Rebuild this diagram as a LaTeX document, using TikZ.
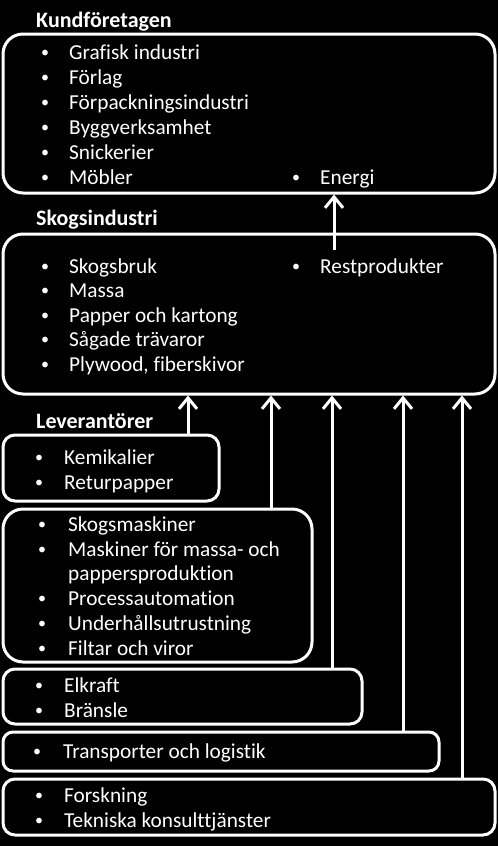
\documentclass[tikz,border=0pt]{standalone}
\usepackage{fontspec}
\setmainfont{Carlito}[Ligatures={NoCommon}]
\usetikzlibrary{arrows.meta}
\newcommand\li[5]{\node[bul] (#1b) at (#2,#4) {•}; \node[itm] (#1) at (#3,#4) {#5};}
\begin{document}
\begin{tikzpicture}[x=1pt,y=-1pt,
 box/.style={draw=white, line width=3pt, inner sep=0pt, rectangle},
 ttl/.style={anchor=base west, inner sep=0pt, text=white, font=\fontsize{22}{26}\selectfont\bfseries},
 itm/.style={anchor=base west, inner sep=0pt, text=white, font=\fontsize{21.3}{25}\selectfont},
 bul/.style={anchor=base, inner sep=0pt, yshift=1.8pt, text=white, font=\fontsize{16}{20}\selectfont},
 arr/.style={draw=white, line width=3pt, -{Straight Barb[length=11pt,width=18pt]}}]
\fill[black] (0,0) rectangle (498,846);
\useasboundingbox (0,0) rectangle (498,846);
% boxes
\node[box, rounded corners=20pt, minimum width=492pt, minimum height=159pt] (kund) at (249,113.5) {};
\node[box, rounded corners=20pt, minimum width=492pt, minimum height=160pt] (skog) at (249,314) {};
\node[box, rounded corners=12pt, minimum width=216pt, minimum height=66pt] (kem) at (111,468) {};
\node[box, rounded corners=20pt, minimum width=309pt, minimum height=153pt] (mask) at (157.5,585.5) {};
\node[box, rounded corners=12pt, minimum width=359pt, minimum height=55pt] (elk) at (182.5,696.5) {};
\node[box, rounded corners=10pt, minimum width=436pt, minimum height=39pt] (trans) at (221,751.5) {};
\node[box, rounded corners=12pt, minimum width=492pt, minimum height=56pt] (fors) at (249,807) {};
% titles
\node[ttl] (t1) at (36,27) {Kundföretagen};
\node[ttl] (t2) at (36,225) {Skogsindustri};
\node[ttl] (t3) at (36,428) {Leverantörer};
% items
\li{k1}{45}{69}{59.5}{Grafisk industri}
\li{k2}{45}{69}{84.4}{Förlag}
\li{k3}{45}{69}{109.3}{Förpackningsindustri}
\li{k4}{45}{69}{134.2}{Byggverksamhet}
\li{k5}{45}{69}{159.1}{Snickerier}
\li{k6}{45}{69}{184}{Möbler}
\li{k7}{296}{320}{184}{Energi}
\li{s1}{45}{69}{273}{Skogsbruk}
\li{s2}{45}{69}{297.5}{Massa}
\li{s3}{45}{69}{322}{Papper och kartong}
\li{s4}{45}{69}{346.5}{Sågade trävaror}
\li{s5}{45}{69}{371}{Plywood, fiberskivor}
\li{s6}{296}{320}{273}{Restprodukter}
\li{e1}{39}{64}{464}{Kemikalier}
\li{e2}{39}{64}{489}{Returpapper}
\li{m1}{42}{68}{531}{Skogsmaskiner}
\li{m2}{42}{68}{556}{Maskiner för massa- och}
\node[itm] (m2b2) at (68,580.5) {pappersproduktion};
\li{m3}{42}{68}{605}{Processautomation}
\li{m4}{42}{68}{630}{Underhållsutrustning}
\li{m5}{42}{68}{655}{Filtar och viror}
\li{l1}{39}{64}{692}{Elkraft}
\li{l2}{39}{64}{717}{Bränsle}
\li{r1}{37}{63}{758}{Transporter och logistik}
\li{f1}{39}{64}{802}{Forskning}
\li{f2}{39}{64}{827}{Tekniska konsulttjänster}
% arrows
\coordinate (es) at (334,250);
\coordinate (x1) at (188,0);
\coordinate (x2) at (271,0);
\coordinate (x3) at (332,0);
\coordinate (x4) at (403,0);
\coordinate (x5) at (462,0);
\draw[arr] (es) -- (es |- kund.south);
\draw[arr] (kem.north -| x1) -- (skog.south -| x1);
\draw[arr] (mask.north -| x2) -- (skog.south -| x2);
\draw[arr] (elk.north -| x3) -- (skog.south -| x3);
\draw[arr] (trans.north -| x4) -- (skog.south -| x4);
\draw[arr] (fors.north -| x5) -- (skog.south -| x5);
\end{tikzpicture}
\end{document}
